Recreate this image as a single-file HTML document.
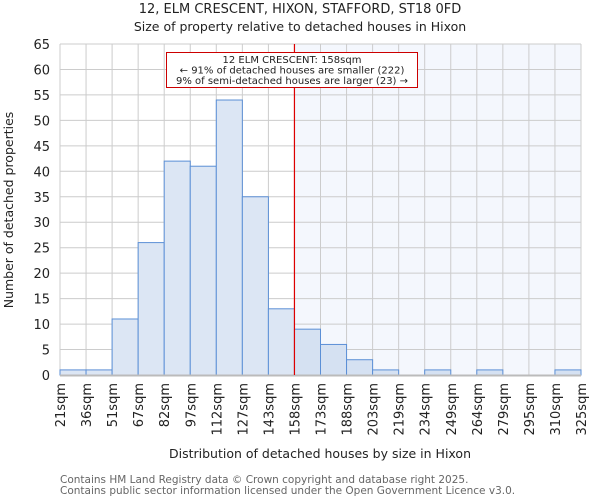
<!DOCTYPE html>
<html><head><meta charset="utf-8"><style>
body{margin:0;background:#fff;font-family:"DejaVu Sans","Liberation Sans",sans-serif}
</style></head><body>
<svg id="c" width="600" height="500" xmlns="http://www.w3.org/2000/svg" font-family="DejaVu Sans, Liberation Sans, sans-serif">
<text x="300" y="13" text-anchor="middle" font-size="13" fill="#222">12, ELM CRESCENT, HIXON, STAFFORD, ST18 0FD</text>
<text x="300" y="31" text-anchor="middle" font-size="12.5" fill="#222">Size of property relative to detached houses in Hixon</text>
<g id="plot"></g>
<text transform="translate(13,210) rotate(-90)" text-anchor="middle" font-size="12.5" fill="#222">Number of detached properties</text>
<text x="320" y="458" text-anchor="middle" font-size="12.5" fill="#222">Distribution of detached houses by size in Hixon</text>
<text x="60" y="483" font-size="10.5" fill="#666">Contains HM Land Registry data © Crown copyright and database right 2025.</text>
<text x="60" y="494" font-size="10.5" fill="#666">Contains public sector information licensed under the Open Government Licence v3.0.</text>
</svg>
<script>
const binLabels=["21sqm","36sqm","51sqm","67sqm","82sqm","97sqm","112sqm","127sqm","143sqm","158sqm","173sqm","188sqm","203sqm","219sqm","234sqm","249sqm","264sqm","279sqm","295sqm","310sqm","325sqm"];
const counts=[1,1,11,26,42,41,54,35,13,9,6,3,1,0,1,0,1,0,0,1];
const yTicks=[0,5,10,15,20,25,30,35,40,45,50,55,60,65];
const markerIndex=9;
const NS="http://www.w3.org/2000/svg";
const L=60,R=581,T=44,B=375,YMAX=65;
const n=counts.length;
const xs=i=>L+(R-L)*i/n;
const ys=v=>B-(B-T)*v/YMAX;
const g=document.getElementById('plot');
function mk(t,a){const e=document.createElementNS(NS,t);for(const k in a)e.setAttribute(k,a[k]);g.appendChild(e);return e;}
let e=mk('rect',{x:xs(markerIndex),y:T,width:R-xs(markerIndex),height:B-T,fill:'#f4f7fd'});


yTicks.forEach(v=>{
 let l=mk('line',{x1:L,x2:R,y1:ys(v),y2:ys(v),stroke:'#ccc','stroke-width':1});
 
 
 let t=mk('text',{x:L-10,y:ys(v)+5,'text-anchor':'end','font-size':13,fill:'#222'});
 t.textContent=v;
 
 
});
binLabels.forEach((s,i)=>{
 let l=mk('line',{x1:xs(i),x2:xs(i),y1:T,y2:B,stroke:'#ccc','stroke-width':1});
 
 
 let t=mk('text',{transform:`translate(${xs(i)+5},${B+8}) rotate(-90)`,'text-anchor':'end','font-size':13,fill:'#222'});
 t.textContent=s;
 
 
});
counts.forEach((v,i)=>{
 if(v<=0)return;
 let r=mk('rect',{x:xs(i),y:ys(v),width:xs(i+1)-xs(i),height:B-ys(v),fill:i>=markerIndex?'#d5e1f2':'#dce6f4',stroke:'#5b8fd6','stroke-width':1});
 
 
});
let ax=mk('line',{x1:L,x2:R,y1:B+0.5,y2:B+0.5,stroke:'#bbb','stroke-width':2});


let ml=mk('line',{x1:xs(markerIndex),x2:xs(markerIndex),y1:T,y2:B,stroke:'#d00','stroke-width':1.2});


let bx=mk('rect',{x:166.5,y:52.5,width:251,height:35,fill:'#fff',stroke:'#c00','stroke-width':1});


["12 ELM CRESCENT: 158sqm","← 91% of detached houses are smaller (222)","9% of semi-detached houses are larger (23) →"].forEach((s,i)=>{
 let t=mk('text',{x:292,y:63+i*10.5,'text-anchor':'middle','font-size':10,fill:'#222'});
 t.textContent=s;
 
 
});
</script>
</body></html>
